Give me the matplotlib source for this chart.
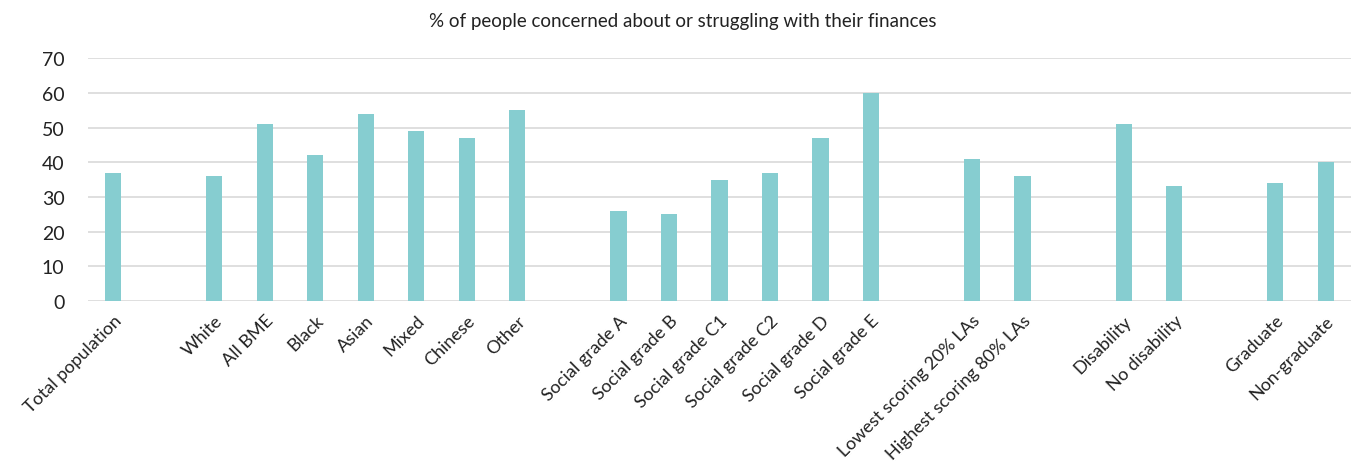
import numpy as np
import matplotlib.pyplot as plt

plt.rcParams['font.family'] = ['Lato', 'DejaVu Sans']

# Categories with blank slots ("") separating the groups
categories = ["Total population", "",
              "White", "All BME", "Black", "Asian", "Mixed", "Chinese", "Other", "",
              "Social grade A", "Social grade B", "Social grade C1", "Social grade C2",
              "Social grade D", "Social grade E", "",
              "Lowest scoring 20% LAs", "Highest scoring 80% LAs", "",
              "Disability", "No disability", "",
              "Graduate", "Non-graduate"]
values = [37, np.nan,
          36, 51, 42, 54, 49, 47, 55, np.nan,
          26, 25, 35, 37, 47, 60, np.nan,
          41, 36, np.nan,
          51, 33, np.nan,
          34, 40]

fig = plt.figure(figsize=(13.58, 4.77), dpi=100)
ax = fig.add_axes([0.0648, 0.367, 0.930, 0.509])

x = np.arange(len(categories))
ax.bar(x, values, width=0.32, color='#86CDD0', zorder=3)

ax.set_xlim(-0.5, len(categories) - 0.5)
ax.set_ylim(0, 70)
ax.set_yticks(range(0, 71, 10))
ax.grid(axis='y', color='#D9D9D9', linewidth=1.2, zorder=0)
for s in ax.spines.values():
    s.set_visible(False)

ax.set_xticks(x)
ax.set_xticklabels(categories, rotation=45, ha='right', rotation_mode='anchor',
                   fontsize=13, color='#222222')
ax.tick_params(axis='both', length=0)
ax.tick_params(axis='y', labelsize=14, colors='#222222', pad=17)
ax.tick_params(axis='x', pad=8)

fig.text(0.503, 0.955, "% of people concerned about or struggling with their finances",
         ha='center', va='center', fontsize=13.5, color='#222222')

fig.savefig('out.png', dpi=100)
